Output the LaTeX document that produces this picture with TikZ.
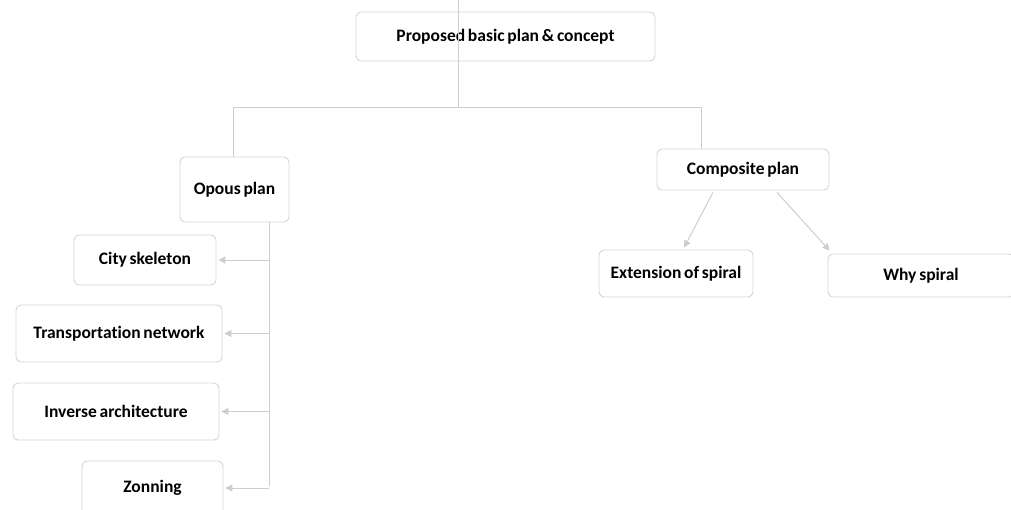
\documentclass[tikz,border=0pt]{standalone}
\usepackage{fontspec}
\setmainfont{Carlito}[WordSpace=0.7,Ligatures=CommonOff]
\usetikzlibrary{arrows.meta,calc}
\definecolor{linegray}{RGB}{205,205,205}
\definecolor{boxgray}{RGB}{212,212,212}
\tikzset{
  box/.style={draw=boxgray, line width=0.9pt, rounded corners=5pt, align=center,
    font=\fontsize{17.5}{19}\selectfont\bfseries, inner sep=0pt},
  conn/.style={draw=linegray, line width=1pt},
  arr/.style={conn, -{Triangle[length=7pt,width=7pt]}},
}
\begin{document}
\begin{tikzpicture}[x=1pt,y=-1pt]
\useasboundingbox (0,0) rectangle (1011,509);
\clip (0,0) rectangle (1011,509);
% nodes
\node[box, minimum width=299pt, minimum height=49pt] (top) at (505.5,36.5) {Proposed basic plan \& concept};
\node[box, minimum width=109pt, minimum height=65pt] (opous) at (234.5,189.5) {Opous plan};
\node[box, minimum width=172pt, minimum height=41pt] (comp) at (743,169.5) {Composite plan};
\node[box, minimum width=142pt, minimum height=50pt] (city) at (145,260) {City skeleton};
\node[box, minimum width=206pt, minimum height=57pt] (trans) at (119,333.5) {Transportation network};
\node[box, minimum width=206pt, minimum height=57pt] (inv) at (116,411.5) {Inverse architecture};
\node[box, minimum width=141pt, minimum height=54pt] (zon) at (152.5,488) {Zonning};
\node[box, minimum width=154pt, minimum height=47pt] (ext) at (676,273.5) {Extension of spiral};
\node[box, minimum width=186pt, minimum height=43pt] (why) at (921,275.5) {Why spiral};
% coordinates
\coordinate (t0) at (458,0);
\coordinate (j) at (458,107);
\coordinate (jl) at (233,107);
\coordinate (jr) at (701,107);
\coordinate (trb) at (269,486);
% connectors
\draw[conn] (t0) -- (j);
\draw[conn] (jl) -- (jr);
\draw[conn] (jl) -- (jl |- opous.north);
\draw[conn] (jr) -- (jr |- comp.north);
\draw[conn] (trb |- opous.south) -- (trb);
\draw[arr] (trb |- city.east) -- ([xshift=2pt]city.east);
\draw[arr] (trb |- trans.east) -- ([xshift=2pt]trans.east);
\draw[arr] (trb |- inv.east) -- ([xshift=2pt]inv.east);
\draw[arr] (trb |- zon.east) -- ([xshift=2pt]zon.east);
\draw[arr] ($(comp.south)+(-30,2)$) -- ($(ext.north)+(8,-2)$);
\draw[arr] ($(comp.south)+(34,2)$) -- ($(why.north west)+(2,-3)$);
\end{tikzpicture}
\end{document}
